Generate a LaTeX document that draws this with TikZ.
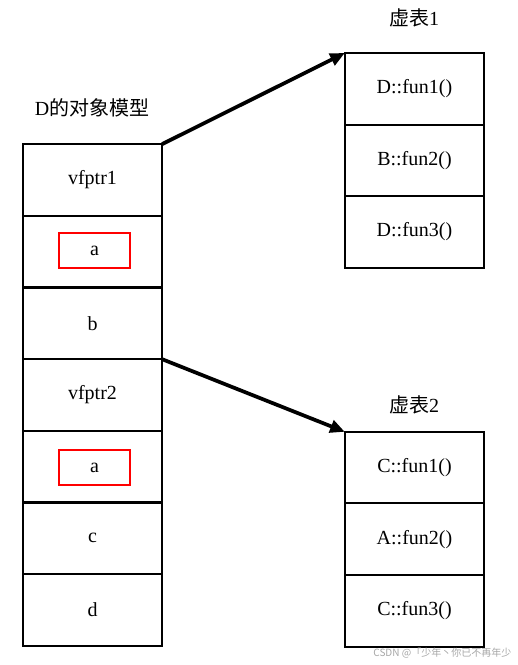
\documentclass[tikz,border=0pt]{standalone}
\usepackage{fontspec}
\setmainfont{Liberation Serif}
\newfontfamily\cjk{Noto Sans CJK SC}
\usetikzlibrary{arrows.meta}

\begin{document}
\begin{tikzpicture}[x=0.75pt,y=-0.75pt,
    cell/.style={draw,line width=1.5pt,outer sep=0pt,minimum width=104.5pt,minimum height=53.7pt,inner sep=0pt,font=\fontsize{15}{18}\selectfont},
    redbox/.style={draw=red,line width=1.4pt,minimum width=53pt,minimum height=26pt,inner sep=0pt,font=\fontsize{15}{18}\selectfont},
    title/.style={font=\fontsize{15}{18}\selectfont},
    ptr/.style={line width=2.8pt,-{Triangle[length=11pt,width=9.5pt]}}]
\useasboundingbox (0,0) rectangle (518,665);
% object model of D
\node[title] (dtitle) at (92,108) {D{\cjk 的对象模型}};
\node[cell] (v1) at (92.5,179.9) {vfptr1};
\node[cell] (a1) at (92.5,251.6) {};
\node[cell] (b) at (92.5,323.3) {b};
\node[cell] (v2) at (92.5,395.0) {vfptr2};
\node[cell] (a2) at (92.5,466.6) {};
\node[cell] (c) at (92.5,538.3) {c};
\node[cell] (d) at (92.5,610.0) {d};
\node[redbox] (ra1) at (94.5,250.5) {a};
\node[redbox] (ra2) at (94.5,467.5) {a};
% first vtable
\node[title] (vt1) at (414,18) {{\cjk 虚表}1};
\node[cell] (f11) at (414.5,88.8) {D::fun1()};
\node[cell] (f12) at (414.5,160.4) {B::fun2()};
\node[cell] (f13) at (414.5,232.0) {D::fun3()};
% second vtable
\node[title] (vt2) at (414,405) {{\cjk 虚表}2};
\node[cell] (f21) at (414.5,467.6) {C::fun1()};
\node[cell] (f22) at (414.5,539.2) {A::fun2()};
\node[cell] (f23) at (414.5,610.8) {C::fun3()};
% pointers
\draw[ptr] (v1.north east) -- (f11.north west);
\draw[ptr] (v2.north east) -- (f21.north west);
\node[text=gray!70,font=\cjk\fontsize{7.5}{9}\selectfont,anchor=east] (mark) at (516,653) {CSDN @「少年丶你已不再年少};
\end{tikzpicture}
\end{document}
